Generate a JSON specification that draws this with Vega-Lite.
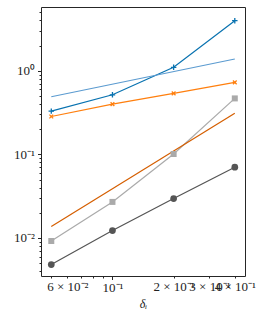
{
  "$schema": "https://vega.github.io/schema/vega-lite/v6.json",
  "width": 204,
  "height": 269,
  "autosize": {"type": "none"},
  "padding": {"left": 41, "top": 7, "right": 21, "bottom": 44},
  "background": "white",
  "config": {
    "view": {"stroke": "#262626", "strokeWidth": 1},
    "axis": {"grid": false, "domain": false, "labelFont": "Liberation Serif", "titleFont": "Liberation Serif", "labelFontSize": 13, "labelColor": "#222", "tickColor": "#262626", "titleColor": "#222", "labelOverlap": false}
  },
  "datasets": {
    "pts": [
      {"x": 0.05, "y": 0.329, "s": "A"},
      {"x": 0.1, "y": 0.516, "s": "A"},
      {"x": 0.2, "y": 1.10, "s": "A"},
      {"x": 0.4, "y": 3.97, "s": "A"},
      {"x": 0.05, "y": 0.489, "s": "B"},
      {"x": 0.4, "y": 1.383, "s": "B"},
      {"x": 0.05, "y": 0.284, "s": "C"},
      {"x": 0.1, "y": 0.399, "s": "C"},
      {"x": 0.2, "y": 0.536, "s": "C"},
      {"x": 0.4, "y": 0.726, "s": "C"},
      {"x": 0.05, "y": 0.0092, "s": "D"},
      {"x": 0.1, "y": 0.027, "s": "D"},
      {"x": 0.2, "y": 0.101, "s": "D"},
      {"x": 0.4, "y": 0.467, "s": "D"},
      {"x": 0.05, "y": 0.0137, "s": "E"},
      {"x": 0.4, "y": 0.311, "s": "E"},
      {"x": 0.05, "y": 0.00481, "s": "F"},
      {"x": 0.1, "y": 0.01227, "s": "F"},
      {"x": 0.2, "y": 0.0296, "s": "F"},
      {"x": 0.4, "y": 0.0703, "s": "F"}
    ]
  },
  "data": {"name": "pts"},
  "encoding": {
    "x": {
      "field": "x", "type": "quantitative",
      "scale": {"type": "log", "domain": [0.0445, 0.449], "nice": false},
      "axis": {
        "values": [0.05, 0.06, 0.07, 0.08, 0.09, 0.1, 0.2, 0.3, 0.4],
        "labelExpr": "datum.value == 0.06 ? '6 × 10⁻²' : datum.value == 0.1 ? '10⁻¹' : datum.value == 0.2 ? '2 × 10⁻¹' : datum.value == 0.3 ? '3 × 10⁻¹' : datum.value == 0.4 ? '4 × 10⁻¹' : ''",
        "tickSize": {"condition": {"test": "datum.value == 0.1", "value": 3.5}, "value": 2},
        "labelPadding": 2,
        "title": "δᵢ",
        "titleFontStyle": "italic",
        "titleFontSize": 12,
        "titleFontWeight": "normal",
        "titlePadding": 4
      }
    },
    "y": {
      "field": "y", "type": "quantitative",
      "scale": {"type": "log", "domain": [0.00351, 5.79], "nice": false},
      "axis": {
        "values": [0.004, 0.005, 0.006, 0.007, 0.008, 0.009, 0.01, 0.02, 0.03, 0.04, 0.05, 0.06, 0.07, 0.08, 0.09, 0.1, 0.2, 0.3, 0.4, 0.5, 0.6, 0.7, 0.8, 0.9, 1, 2, 3, 4, 5],
        "labelExpr": "datum.value == 1 ? '10⁰' : datum.value == 0.1 ? '10⁻¹' : datum.value == 0.01 ? '10⁻²' : ''",
        "tickSize": {"condition": {"test": "datum.value == 1 || datum.value == 0.1 || datum.value == 0.01", "value": 3.5}, "value": 2},
        "labelPadding": 3,
        "title": null
      }
    }
  },
  "layer": [
    {
      "mark": {"type": "line", "strokeWidth": 1.2},
      "encoding": {
        "color": {
          "field": "s", "type": "nominal", "legend": null,
          "scale": {"domain": ["A", "B", "C", "D", "E", "F"], "range": ["#0872b0", "#5b9bd0", "#ff7f0e", "#aaaaaa", "#d55e00", "#555555"]}
        }
      }
    },
    {
      "transform": [{"filter": "datum.s == 'A'"}],
      "mark": {"type": "point", "shape": "M-1,0L1,0M0,-1L0,1", "filled": false, "stroke": "#0872b0", "strokeWidth": 1.3, "size": 30, "opacity": 1}
    },
    {
      "transform": [{"filter": "datum.s == 'C'"}],
      "mark": {"type": "point", "shape": "M-1,-1L1,1M-1,1L1,-1", "filled": false, "stroke": "#ff7f0e", "strokeWidth": 1.3, "size": 14, "opacity": 1}
    },
    {
      "transform": [{"filter": "datum.s == 'D'"}],
      "mark": {"type": "point", "shape": "square", "filled": true, "color": "#aaaaaa", "size": 36, "opacity": 1}
    },
    {
      "transform": [{"filter": "datum.s == 'F'"}],
      "mark": {"type": "point", "shape": "circle", "filled": true, "color": "#555555", "size": 45, "opacity": 1}
    }
  ]
}
